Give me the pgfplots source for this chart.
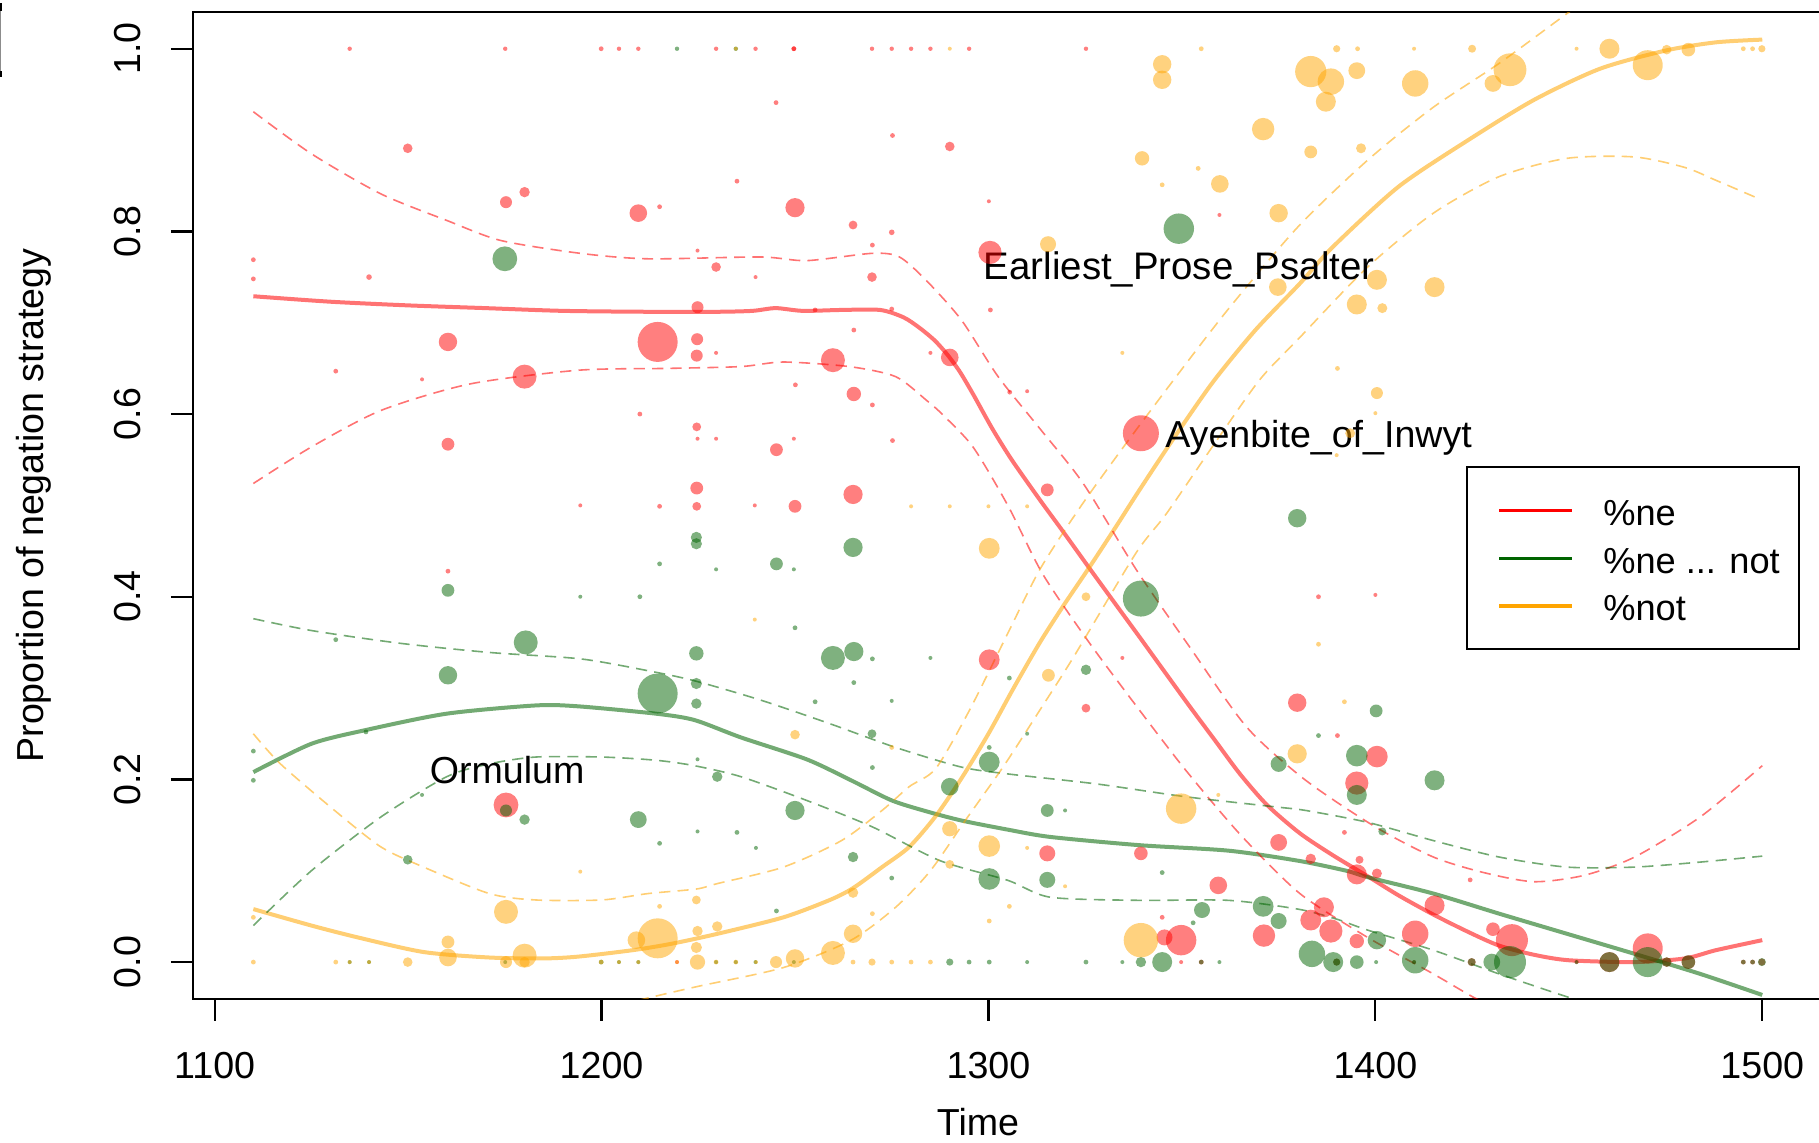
\documentclass[border=0pt]{standalone}
\usepackage{fontspec}
\setmainfont{Liberation Sans}
\usepackage{pgfplots}
\usepackage{pgfplotstable}
\pgfplotsset{compat=1.18}
\definecolor{rgreen}{RGB}{0,100,0}
\definecolor{rorange}{RGB}{255,165,0}

\pgfplotstableread{
x y s
1134.9 1.0 0.55
1175.1 1.0 0.55
1199.9 1.0 0.6
1204.5 1.0 0.55
1209.5 1.0 0.55
1229.6 1.0 0.55
1239.8 1.0 0.55
1249.7 1.0 0.6
1249.7 1.0 0.6
1269.9 1.0 0.55
1275.0 1.0 0.55
1280.0 1.0 0.55
1285.0 1.0 0.55
1295.0 1.0 0.55
1325.2 1.0 0.55
1149.9 0.891 1.2
1180.1 0.843 1.3
1175.3 0.832 1.5
1209.5 0.820 2.2
1215.0 0.827 0.6
1110.0 0.769 0.6
1110.0 0.748 0.6
1139.9 0.750 0.7
1160.3 0.679 2.3
1214.5 0.679 5.0
1224.7 0.682 1.5
1224.6 0.664 1.5
1131.3 0.647 0.6
1153.6 0.638 0.5
1180.1 0.641 3.0
1175.3 0.172 3.1
1224.8 0.717 1.5
1224.8 0.779 0.5
1245.1 0.941 0.6
1275.2 0.905 0.6
1290.0 0.893 1.2
1235.0 0.855 0.6
1250.0 0.826 2.4
1265.0 0.807 1.1
1275.0 0.799 0.7
1300.1 0.833 0.5
1359.7 0.818 0.5
1300.4 0.777 2.9
1270.0 0.785 0.6
1229.6 0.761 1.2
1239.8 0.750 0.5
1269.9 0.750 1.2
1255.2 0.714 0.6
1275.0 0.715 0.6
1300.5 0.714 0.6
1265.2 0.692 0.6
1229.6 0.667 0.5
1259.8 0.659 3.0
1290.0 0.662 2.2
1285.0 0.667 0.5
1250.1 0.632 0.6
1265.2 0.622 1.8
1305.5 0.624 0.6
1310.0 0.625 0.5
1209.9 0.600 0.6
1224.6 0.586 1.1
1160.3 0.567 1.6
1224.6 0.519 1.6
1194.5 0.500 0.5
1215.0 0.499 0.6
1224.6 0.499 1.1
1160.3 0.428 0.6
1270.0 0.610 0.6
1339.4 0.579 4.5
1224.8 0.573 0.5
1229.6 0.573 0.5
1249.7 0.573 0.5
1275.2 0.571 0.6
1245.2 0.561 1.6
1315.2 0.517 1.6
1265.0 0.512 2.4
1239.6 0.500 0.5
1250.0 0.499 1.6
1385.3 0.400 0.6
1400.0 0.402 0.5
1300.2 0.331 2.6
1334.6 0.333 0.5
1379.8 0.284 2.3
1325.2 0.278 1.1
1390.2 0.248 0.6
1315.2 0.119 2.0
1339.4 0.119 1.7
1375.0 0.131 2.1
1383.3 0.113 1.3
1344.9 0.049 0.6
1359.4 0.084 2.2
1386.7 0.060 2.5
1383.3 0.046 2.6
1388.5 0.034 2.9
1371.2 0.029 2.8
1349.8 0.024 3.8
1345.5 0.027 2.0
1349.8 0.0 0.5
1395.2 0.196 2.9
1400.4 0.225 2.7
1392.0 0.142 0.6
1395.9 0.112 1.0
1395.2 0.096 2.5
1400.4 0.097 1.25
1424.5 0.090 0.6
1415.3 0.062 2.5
1395.2 0.023 1.8
1410.3 0.031 3.3
1430.4 0.036 1.7
1435.3 0.024 4.0
1470.4 0.015 3.75
1390.0 0.0 0.9
1410.0 0.0 0.5
1424.9 0.0 1.0
1452.0 0.0 0.5
1460.5 0.0 2.5
1475.3 0.0 1.2
1480.9 0.0 1.7
1495.1 0.0 0.6
1497.5 0.0 0.6
1499.9 0.0 0.9
1355.0 0.0 0.6
1219.5 0.0 0.5
}\reddata

\pgfplotstableread{
x y s
1219.5 1.0 0.55
1234.7 1.0 0.55
1175.0 0.770 3.1
1349.2 0.803 3.8
1224.5 0.465 1.4
1224.5 0.458 1.4
1215.0 0.436 0.6
1160.3 0.407 1.6
1194.5 0.400 0.5
1209.9 0.400 0.6
1131.3 0.353 0.6
1180.4 0.350 3.0
1224.5 0.338 1.8
1160.3 0.314 2.3
1214.5 0.294 5.0
1224.5 0.305 1.4
1224.5 0.283 1.3
1110.0 0.231 0.6
1139.1 0.252 0.6
1379.8 0.486 2.3
1265.0 0.454 2.4
1245.2 0.436 1.6
1229.6 0.430 0.5
1249.7 0.430 0.5
1339.4 0.398 4.5
1250.0 0.366 0.6
1259.8 0.333 3.0
1265.2 0.340 2.4
1270.0 0.332 0.6
1285.0 0.333 0.5
1305.4 0.311 0.6
1325.2 0.320 1.3
1265.2 0.306 0.6
1255.2 0.285 0.6
1275.0 0.286 0.5
1400.2 0.275 1.6
1269.9 0.250 1.1
1310.0 0.250 0.5
1385.3 0.248 0.6
1300.2 0.235 0.6
1300.2 0.219 2.6
1375.0 0.217 2.0
1395.2 0.226 2.7
1270.0 0.213 0.6
1224.8 0.222 0.5
1229.9 0.203 1.3
1290.0 0.192 2.2
1250.0 0.166 2.4
1315.2 0.166 1.6
1319.8 0.166 0.5
1224.8 0.143 0.5
1235.0 0.142 0.6
1215.0 0.130 0.6
1239.9 0.125 0.5
1265.0 0.115 1.3
1275.0 0.092 0.6
1300.2 0.091 2.7
1315.2 0.090 2.0
1344.9 0.098 0.6
1245.2 0.056 0.6
1371.0 0.061 2.6
1355.2 0.057 2.0
1352.9 0.043 0.6
1375.0 0.045 2.0
1175.3 0.166 1.5
1180.1 0.156 1.3
1209.5 0.156 2.1
1149.9 0.112 1.2
1110.0 0.199 0.6
1153.6 0.183 0.5
1395.2 0.183 2.5
1415.3 0.199 2.5
1401.8 0.143 1.0
1400.4 0.024 2.3
1410.3 0.002 3.3
1434.8 0.0 4.0
1470.4 0.0 3.75
1460.5 0.0 2.5
1480.9 0.0 1.7
1424.9 0.0 1.0
1430.1 0.0 2.1
1395.2 0.0 1.7
1400.2 0.0 0.5
1383.6 0.009 3.3
1389.1 0.0 2.5
1452.0 0.0 0.5
1495.1 0.0 0.6
1497.5 0.0 0.6
1499.9 0.0 1.0
1475.3 0.0 1.2
1390.0 0.0 0.9
1410.0 0.0 0.5
1290.0 0.0 0.9
1295.0 0.0 0.6
1300.2 0.0 0.6
1310.0 0.0 0.5
1325.2 0.0 0.6
1334.6 0.0 0.5
1339.4 0.0 1.3
1344.9 0.0 2.5
1355.0 0.0 0.6
1359.7 0.0 0.5
1134.9 0.0 0.5
1139.9 0.0 0.5
1175.1 0.0 0.5
1199.9 0.0 0.6
1204.5 0.0 0.5
1209.5 0.0 0.5
1229.6 0.0 0.5
1234.7 0.0 0.5
1239.8 0.0 0.5
1249.7 0.0 0.5
}\greendata

\pgfplotstableread{
x y s
1110.0 0.0 0.6
1131.3 0.0 0.6
1134.9 0.0 0.5
1139.9 0.0 0.5
1149.9 0.0 1.2
1160.3 0.005 2.2
1160.3 0.022 1.6
1175.3 0.0 1.5
1180.1 0.0 1.3
1180.1 0.007 3.0
1175.3 0.055 3.0
1110.0 0.049 0.6
1194.5 0.099 0.5
1199.9 0.0 0.6
1204.5 0.0 0.5
1209.5 0.0 0.5
1215.0 0.061 0.6
1214.5 0.026 5.0
1209.0 0.024 2.2
1224.5 0.068 1.1
1224.5 0.016 1.4
1224.8 0.0 1.9
1229.9 0.039 1.3
1224.8 0.034 1.3
1229.6 0.0 0.6
1234.7 0.0 0.6
1239.9 0.0 0.5
1245.1 0.0 1.5
1250.0 0.004 2.3
1259.8 0.010 3.0
1265.0 0.031 2.3
1265.0 0.0 0.6
1269.9 0.0 0.9
1275.0 0.0 0.6
1280.0 0.0 0.6
1285.0 0.0 0.6
1265.0 0.076 1.3
1270.0 0.053 0.6
1305.4 0.061 0.6
1300.2 0.045 0.6
1290.0 0.146 1.9
1300.2 0.127 2.7
1310.0 0.125 0.5
1290.0 0.107 1.1
1319.8 0.083 0.5
1349.8 0.168 3.8
1359.4 0.183 0.5
1339.4 0.024 4.3
1290.0 0.499 0.5
1300.0 0.499 0.5
1310.0 0.499 0.5
1280.0 0.499 0.5
1300.2 0.453 2.6
1325.2 0.400 1.1
1239.6 0.375 0.5
1385.3 0.348 0.6
1315.5 0.314 1.6
1392.0 0.285 0.6
1379.8 0.228 2.4
1275.0 0.235 0.6
1250.0 0.249 1.2
1400.4 0.623 1.5
1400.0 0.601 0.5
1393.5 0.579 1.25
1390.0 0.555 0.5
1390.0 1.0 0.9
1395.4 1.0 0.6
1410.0 1.0 0.5
1425.0 1.0 1.0
1452.0 1.0 0.5
1460.5 1.0 2.5
1495.1 1.0 0.6
1497.5 1.0 0.6
1499.9 1.0 0.9
1383.3 0.975 3.9
1388.5 0.964 3.3
1387.2 0.942 2.5
1395.2 0.976 2.1
1410.3 0.962 3.3
1434.8 0.977 4.1
1430.4 0.962 2.1
1470.4 0.982 3.75
1475.3 0.999 1.2
1480.9 0.999 1.7
1383.3 0.887 1.6
1396.3 0.891 1.25
1400.4 0.747 2.5
1415.3 0.739 2.5
1395.2 0.720 2.5
1401.8 0.716 1.25
1390.2 0.650 0.6
1344.9 0.983 2.3
1344.9 0.966 2.3
1355.0 1.0 0.6
1339.7 0.880 1.8
1371.0 0.912 2.8
1354.2 0.869 0.6
1344.9 0.851 0.6
1359.8 0.852 2.2
1375.0 0.820 2.3
1315.4 0.786 2.0
1374.8 0.739 2.2
1334.6 0.667 0.5
1290.0 1.0 0.5
1234.7 1.0 0.5
1219.5 0.0 0.5
}\orangedata

\pgfplotsset{
  bub/.style={forget plot, scatter, only marks, mark=*,
    scatter/use mapped color={draw=#1, fill=#1, fill opacity=0.5, draw opacity=0},
    visualization depends on={\thisrow{s}\as\ms},
    scatter/@pre marker code/.append style={/tikz/mark size=\ms}},
  fit/.style={forget plot, #1, draw opacity=0.55, line width=1pt, smooth, tension=0.45},
  band/.style={forget plot, #1, draw opacity=0.55, line width=0.4pt, dash pattern=on 2.8pt off 1.8pt, smooth, tension=0.45},
}

\begin{document}
\begin{tikzpicture}[font=\fontsize{9.4}{11.3}\selectfont]
\begin{axis}[
  name=ax, scale only axis, width=407.4pt, height=246.6pt,
  xmin=1094.4, xmax=1515.6, ymin=-0.04, ymax=1.04,
  axis line style={line width=0.55pt, black},
  xtick={1100,1200,1300,1400,1500},
  ytick={0,0.2,0.4,0.6,0.8,1},
  minor tick num=0,
  xtick pos=left, ytick pos=left, tick align=outside,
  major tick length=5.5pt,
  every tick/.style={black, line width=0.55pt},
  /pgf/number format/assume math mode=true,
  ticklabel style={font=\fontsize{9.4}{11.3}\selectfont},
  xticklabel style={/pgf/number format/1000 sep={}},
  xticklabel shift=4.35pt,
  yticklabel shift=4.05pt,
  yticklabel style={rotate=90, anchor=south, /pgf/number format/fixed, /pgf/number format/fixed zerofill, /pgf/number format/precision=1},
  xlabel={Time}, ylabel={Proportion of negation strategy},
  xlabel style={at={(rel axis cs:0.4817,-0.1384)}, anchor=base},
  ylabel style={at={(rel axis cs:-0.092,0.5)}, anchor=base},
  legend style={at={(rel axis cs:0.7812,0.5399)}, anchor=north west, draw=black, line width=0.55pt, fill=white,
    inner xsep=3.25pt, inner ysep=5.65pt, row sep=1.45pt, column sep=5.87pt,
    font=\fontsize{9.05}{11}\selectfont,
    nodes={inner sep=1.5pt, text height=7.45pt, text depth=0pt}},
  legend cell align=left,
  legend image code/.code={\path (0pt,0pt); \draw[#1] (4.37pt,0pt) -- (22.57pt,0pt);},
]
\addplot[bub=red] table[x=x,y=y]{\reddata};
\addplot[bub=rgreen] table[x=x,y=y]{\greendata};
\addplot[bub=rorange] table[x=x,y=y]{\orangedata};

\addplot[fit=red] coordinates {(1110,0.729) (1130,0.723) (1150,0.719) (1170,0.716) (1190,0.713) (1212,0.712) (1230,0.712) (1239,0.713) (1245,0.716) (1252,0.713) (1262,0.714) (1272,0.714) (1278,0.706) (1282,0.695) (1286,0.681) (1289.2,0.666) (1292.5,0.647) (1296,0.622) (1301,0.584) (1306,0.550) (1313.3,0.506) (1319,0.473) (1326.3,0.430) (1333,0.391) (1339.2,0.355) (1345.5,0.318) (1352,0.280) (1358.5,0.243) (1365,0.206) (1372,0.172) (1380.5,0.141) (1389,0.117) (1398,0.094) (1406,0.073) (1415,0.052) (1424,0.033) (1432,0.018) (1441,0.008) (1450,0.002) (1467,0.0) (1480,0.004) (1488,0.013) (1500,0.024)};
\addplot[fit=rgreen] coordinates {(1110,0.208) (1125,0.239) (1139,0.254) (1160,0.272) (1183,0.281) (1194,0.280) (1214,0.272) (1224,0.265) (1236,0.246) (1253,0.222) (1264.5,0.199) (1275,0.177) (1284,0.165) (1293,0.155) (1305,0.145) (1316,0.137) (1339,0.128) (1362,0.122) (1380,0.111) (1392.5,0.100) (1398,0.093) (1415,0.075) (1432,0.053) (1449.5,0.031) (1467,0.009) (1484,-0.013) (1500,-0.036)};
\addplot[fit=rorange] coordinates {(1110,0.058) (1125,0.040) (1137,0.027) (1154,0.011) (1171,0.005) (1185,0.004) (1194,0.006) (1208,0.013) (1218,0.020) (1230,0.031) (1247,0.049) (1259,0.068) (1265,0.081) (1272.5,0.104) (1279.5,0.126) (1286.4,0.160) (1293.3,0.203) (1300,0.250) (1306.5,0.300) (1313.3,0.350) (1319.5,0.391) (1326.2,0.433) (1333,0.477) (1339.2,0.518) (1347.8,0.573) (1358,0.635) (1369,0.692) (1380.5,0.743) (1389,0.783) (1406,0.849) (1424,0.900) (1441,0.944) (1458,0.978) (1475,0.998) (1488,1.007) (1500,1.010)};

\addplot[band=red] coordinates {(1110,0.931) (1125,0.885) (1143,0.841) (1160,0.812) (1174,0.790) (1194.5,0.776) (1212,0.770) (1241,0.772) (1253,0.768) (1270,0.776) (1277,0.772) (1284,0.746) (1293,0.703) (1302.5,0.641) (1313.3,0.584) (1324.5,0.524) (1338.3,0.429) (1352,0.345) (1366.8,0.257) (1382,0.199) (1400,0.148) (1415,0.115) (1428,0.098) (1441,0.088) (1454,0.095) (1467,0.115) (1484,0.159) (1500,0.215)};
\addplot[band=red] coordinates {(1110,0.524) (1125,0.564) (1143,0.604) (1166,0.633) (1194,0.648) (1217,0.650) (1236,0.652) (1247,0.657) (1264,0.652) (1276,0.641) (1284,0.615) (1288,0.600) (1296,0.564) (1305,0.500) (1314,0.425) (1326,0.350) (1339,0.276) (1351,0.210) (1365,0.140) (1380.5,0.075) (1398,0.027) (1415,-0.013) (1426,-0.040) (1432,-0.05)};
\addplot[band=rgreen] coordinates {(1110,0.376) (1125,0.363) (1148,0.349) (1171,0.339) (1194.5,0.332) (1212,0.319) (1224,0.308) (1241,0.287) (1259,0.261) (1276,0.235) (1293,0.2135) (1305,0.206) (1328,0.195) (1351,0.181) (1374,0.170) (1382,0.166) (1398,0.153) (1415,0.133) (1432,0.115) (1449.5,0.104) (1467,0.104) (1484,0.1095) (1500,0.116)};
\addplot[band=rgreen] coordinates {(1110,0.040) (1125,0.100) (1143,0.159) (1160,0.203) (1171,0.217) (1183,0.2245) (1200,0.2245) (1214,0.221) (1224,0.215) (1236,0.203) (1253,0.177) (1270,0.148) (1287.5,0.111) (1305,0.0895) (1316,0.071) (1339,0.0676) (1362,0.0676) (1380,0.058) (1390,0.047) (1398,0.035) (1415,0.013) (1432,-0.013) (1451,-0.040) (1460,-0.05)};
\addplot[band=rorange] coordinates {(1110,0.250) (1117,0.217) (1131,0.166) (1143,0.126) (1154,0.104) (1171,0.075) (1183,0.068) (1200,0.068) (1212,0.075) (1224.5,0.080) (1230,0.086) (1247,0.104) (1262,0.133) (1272.5,0.166) (1279.5,0.192) (1286.4,0.212) (1295,0.275) (1305,0.360) (1313.3,0.430) (1323.7,0.498) (1334.9,0.564) (1347.8,0.637) (1362,0.715) (1380,0.805) (1398,0.878) (1415,0.936) (1432,0.984) (1450,1.040) (1460,1.07)};
\addplot[band=rorange] coordinates {(1205,-0.05) (1209.5,-0.042) (1224.5,-0.027) (1247,-0.006) (1264.5,0.024) (1276,0.060) (1285,0.100) (1294,0.155) (1304,0.215) (1313.3,0.276) (1322,0.334) (1338,0.447) (1346,0.491) (1358,0.565) (1370,0.637) (1380.5,0.684) (1398,0.761) (1415,0.820) (1432,0.860) (1449.5,0.880) (1467,0.8815) (1480,0.870) (1488,0.856) (1499,0.836)};

\addlegendimage{red, line width=0.85pt}
\addlegendentry{\%ne}
\addlegendimage{rgreen, line width=0.85pt}
\addlegendentry{\%ne ... not}
\addlegendimage{rorange, line width=0.85pt}
\addlegendentry{\%not}

\node[anchor=base west, inner sep=0pt, font=\fontsize{9.6}{11.5}\selectfont] at (axis cs:1298.6,0.7478) {Earliest\_Prose\_Psalter};
\node[anchor=base west, inner sep=0pt] at (axis cs:1345.5,0.5636) {Ayenbite\_of\_Inwyt};
\node[anchor=base west, inner sep=0pt] at (axis cs:1155.4,0.1955) {Ormulum};
\end{axis}
\pgfresetboundingbox
\path[use as bounding box] ([xshift=-48.25pt, yshift=-35.875pt]ax.south west) rectangle ([xshift=-0.9pt, yshift=3.05pt]ax.north east);
\fill[black!45] ([xshift=-48.25pt, yshift=2.3pt]ax.north west) rectangle ([xshift=-47.9pt, yshift=-16.15pt]ax.north west);
\fill[black] ([xshift=-48.25pt, yshift=2.3pt]ax.north west) rectangle ([xshift=-47.8pt, yshift=0.35pt]ax.north west);
\fill[black] ([xshift=-48.25pt, yshift=-14.65pt]ax.north west) rectangle ([xshift=-47.8pt, yshift=-16.15pt]ax.north west);
\end{tikzpicture}
\end{document}
